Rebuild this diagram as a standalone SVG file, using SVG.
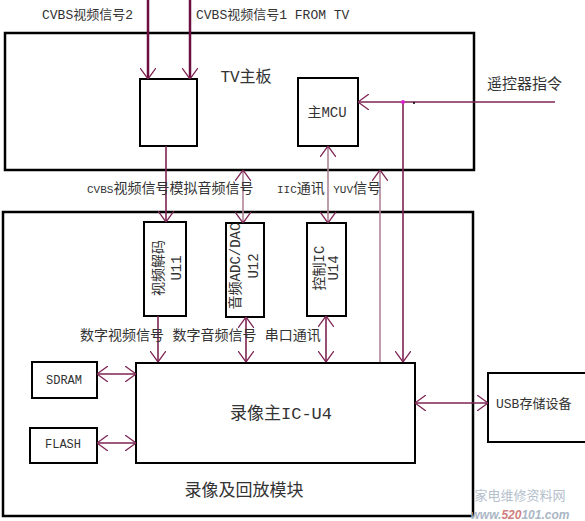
<svg xmlns="http://www.w3.org/2000/svg" width="585" height="521" viewBox="0 0 585 521">
<style>
.box{fill:#fff;stroke:#000;stroke-width:2}
.big{fill:none;stroke:#000;stroke-width:2.5}
.t{font-family:"Liberation Mono","Noto Sans CJK SC",monospace;fill:#333}
.c{fill:none;stroke:#7d2452;stroke-width:1.6}
.cd{fill:none;stroke:#6a0f3f;stroke-width:2.5}
.cl{fill:none;stroke:#b08398;stroke-width:1.6}
</style>
<defs>
<marker id="ah" viewBox="0 0 11 16" refX="11" refY="8" markerWidth="11" markerHeight="16" markerUnits="userSpaceOnUse" orient="auto-start-reverse">
<path d="M0,0 L11,8 L0,16" fill="none" stroke="#7d2452" stroke-width="1.3"/>
</marker>
</defs>
<rect width="585" height="521" fill="#fff"/>
<g id="tv-board">
<rect class="big" x="5" y="33" width="469" height="137"/>
<text class="t" x="246" y="82" font-size="16" text-anchor="middle">TV主板</text>
</g>
<g id="tv-input-box"><rect class="box" x="140" y="79" width="57" height="67"/></g>
<g id="mcu">
<rect class="box" x="298" y="78" width="60" height="68"/>
<text class="t" x="327" y="117" font-size="14" text-anchor="middle">主MCU</text>
</g>
<g id="rec-module">
<rect class="big" x="3" y="212" width="470" height="304"/>
<text class="t" x="244" y="496" font-size="17" text-anchor="middle">录像及回放模块</text>
</g>
<g id="u11">
<rect class="box" x="144" y="222" width="42" height="94"/>
<text class="t" font-size="14" text-anchor="middle" transform="translate(163,268) rotate(-90)">视频解码</text>
<text class="t" font-size="14" text-anchor="middle" transform="translate(181,268) rotate(-90)">U11</text>
</g>
<g id="u12">
<rect class="box" x="226" y="223" width="38" height="94"/>
<text class="t" font-size="14" text-anchor="middle" transform="translate(240,266) rotate(-90)">音频ADC/DAC</text>
<text class="t" font-size="14" text-anchor="middle" transform="translate(258,266) rotate(-90)">U12</text>
</g>
<g id="u14">
<rect class="box" x="307" y="223" width="39" height="93"/>
<text class="t" font-size="14" text-anchor="middle" transform="translate(324,268) rotate(-90)">控制IC</text>
<text class="t" font-size="14" text-anchor="middle" transform="translate(338,268) rotate(-90)">U14</text>
</g>
<g id="u4">
<rect class="box" x="136" y="363" width="279" height="100"/>
<text class="t" x="281" y="419" font-size="17" text-anchor="middle">录像主IC-U4</text>
</g>
<g id="sdram">
<rect class="box" x="32" y="362" width="65" height="36"/>
<text class="t" x="64" y="384" font-size="12" text-anchor="middle">SDRAM</text>
</g>
<g id="flash">
<rect class="box" x="30" y="428" width="67" height="35"/>
<text class="t" x="63" y="448" font-size="12" text-anchor="middle">FLASH</text>
</g>
<g id="usb">
<rect class="box" x="488" y="373" width="100" height="69"/>
<text class="t" x="496" y="408" font-size="13">USB存储设备</text>
</g>
<g id="connectors">
<line class="cd" x1="148" y1="0" x2="148" y2="79" marker-end="url(#ah)"/>
<line class="cd" x1="190" y1="0" x2="190" y2="79" marker-end="url(#ah)"/>
<line class="c" x1="166" y1="146" x2="166" y2="222" marker-end="url(#ah)"/>
<line class="cl" x1="243" y1="170" x2="243" y2="223" marker-start="url(#ah)" marker-end="url(#ah)"/>
<line class="cl" x1="328" y1="146" x2="328" y2="223" marker-start="url(#ah)" marker-end="url(#ah)"/>
<line class="cl" x1="380" y1="362" x2="380" y2="170" marker-end="url(#ah)"/>
<line class="c" x1="555" y1="102" x2="358" y2="102" marker-end="url(#ah)"/>
<line class="c" x1="403" y1="102" x2="403" y2="362" marker-end="url(#ah)"/>
<circle cx="403" cy="102" r="2" fill="#e020d0"/>
<circle cx="414" cy="103" r="1" fill="#000"/>
<line class="c" x1="158" y1="316" x2="158" y2="362" marker-end="url(#ah)"/>
<line class="c" x1="246" y1="317" x2="246" y2="362" marker-start="url(#ah)" marker-end="url(#ah)"/>
<line class="c" x1="326" y1="316" x2="326" y2="362" marker-start="url(#ah)" marker-end="url(#ah)"/>
<line class="c" x1="97" y1="374" x2="136" y2="374" marker-start="url(#ah)" marker-end="url(#ah)"/>
<line class="c" x1="97" y1="443" x2="136" y2="443" marker-start="url(#ah)" marker-end="url(#ah)"/>
<line class="c" x1="415" y1="403" x2="488" y2="403" marker-start="url(#ah)" marker-end="url(#ah)"/>
</g>
<g id="labels">
<text class="t" x="42" y="19" font-size="13">CVBS视频信号2</text>
<text class="t" x="196" y="19" font-size="13">CVBS视频信号1 FROM TV</text>
<text class="t" x="487" y="89" font-size="15">遥控器指令</text>
<text class="t" x="87" y="193" font-size="14"><tspan font-size="11">CVBS</tspan>视频信号模拟音频信号</text>
<text class="t" x="277" y="193" font-size="14"><tspan font-size="11">IIC</tspan>通讯 <tspan font-size="11">YUV</tspan>信号</text>
<text class="t" x="80" y="340" font-size="14">数字视频信号 数字音频信号 串口通讯</text>
</g>
<g id="watermark">
<text x="520" y="500" font-size="13" text-anchor="middle" fill="#b4c0cc" font-family="Noto Sans CJK SC,sans-serif">家电维修资料网</text>
<text x="520" y="519" font-size="12" text-anchor="middle" fill="#aab6c4" font-family="Liberation Sans,sans-serif" font-weight="bold" font-style="italic">www.<tspan fill="#d08080">520</tspan>101.com</text>
</g>
</svg>
